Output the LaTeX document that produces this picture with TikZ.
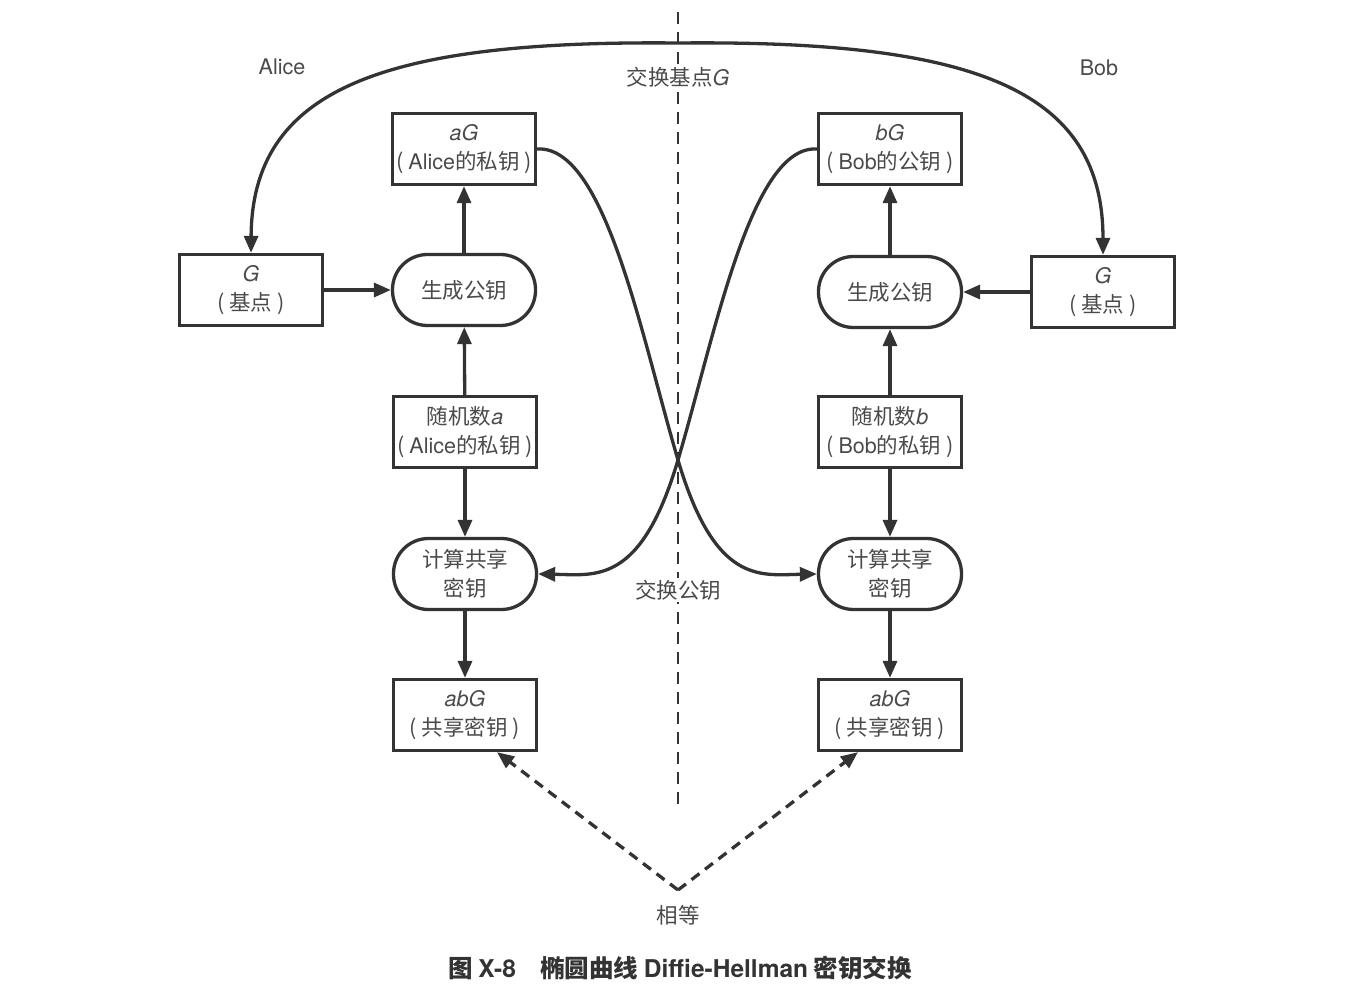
\documentclass[tikz,border=0pt]{standalone}
\usepackage{fontspec}
\setmainfont{Noto Sans CJK SC}
\newfontfamily\lat{TeX Gyre Heros}
\usetikzlibrary{arrows.meta}
\definecolor{lc}{HTML}{333333}
\definecolor{tc}{HTML}{4A4A4A}
\newcommand{\fs}{\fontsize{21.5}{29}\selectfont}
\newcommand{\iv}[1]{{\lat\itshape #1}}
\tikzset{
  box/.style={draw=lc, line width=3.3pt, minimum width=143pt, minimum height=71pt, inner sep=0pt, align=center, text=tc, font=\fs},
  pill/.style={box, rounded corners=35pt},
  arr/.style={draw=lc, line width=3.3pt, -{Triangle[length=17pt,width=14pt]}},
  dasharr/.style={arr, dash pattern=on 10pt off 7pt},
  lbl/.style={text=tc, font=\fs, inner sep=2pt},
}
\begin{document}
\begin{tikzpicture}[x=1pt,y=-1pt]
\useasboundingbox (0,0) rectangle (1345,992);
% divider
\coordinate (dtop) at (678,12);
\coordinate (dbot) at (678,810);
\draw[lc, line width=2pt, dash pattern=on 12pt off 8pt] (dtop) -- (dbot);
% nodes left
\node[box] (aG) at (464,149) {\iv{aG}\\( {\lat Alice}的私钥 )};
\node[box] (GL) at (251,290) {\iv{G}\\( 基点 )};
\node[pill] (genL) at (464,290) {生成公钥};
\node[box] (rndL) at (465,432) {随机数\iv{a}\\( {\lat Alice}的私钥 )};
\node[pill] (cmpL) at (465,574) {计算共享\\密钥};
\node[box] (abGL) at (465,715) {\iv{abG}\\( 共享密钥 )};
% nodes right
\node[box] (bG) at (890,149) {\iv{bG}\\( {\lat Bob}的公钥 )};
\node[box] (GR) at (1103,292) {\iv{G}\\( 基点 )};
\node[pill] (genR) at (890,292) {生成公钥};
\node[box] (rndR) at (890,432) {随机数\iv{b}\\( {\lat Bob}的私钥 )};
\node[pill] (cmpR) at (890,574) {计算共享\\密钥};
\node[box] (abGR) at (890,715) {\iv{abG}\\( 共享密钥 )};
% labels
\node[lbl] (alice) at (282,67) {\lat Alice};
\node[lbl] (bob) at (1099,68) {\lat Bob};
\coordinate (apex) at (678,43);
\draw[arr] (apex) .. controls (380,40) and (252,90) .. (GL.north);
\draw[arr] (apex) .. controls (976,40) and (1103,90) .. (GR.north);
\node[lbl, fill=white] (xg) at (678,77) {交换基点\iv{G}};
% vertical arrows
\draw[arr] (GL) -- (genL);
\draw[arr] (GR) -- (genR);
\draw[arr] (genL) -- (aG);
\draw[arr] (genR) -- (bG);
\draw[arr] (rndL) -- (genL);
\draw[arr] (rndR) -- (genR);
\draw[arr] (rndL) -- (cmpL);
\draw[arr] (rndR) -- (cmpR);
\draw[arr] (cmpL) -- (abGL);
\draw[arr] (cmpR) -- (abGR);
% crossing curves
\coordinate (cross) at (678,460);
\draw[arr] (aG.east) .. controls (605,145) and (641,335) .. (cross) .. controls (715,585) and (760,575) .. (cmpR.west);
\draw[arr] (bG.west) .. controls (751,145) and (715,335) .. (cross) .. controls (641,585) and (596,575) .. (cmpL.east);
\node[lbl, fill=white] (xp) at (678,590) {交换公钥};
% equality
\coordinate (eq) at (678,890);
\draw[dasharr] (eq) -- ([xshift=32pt]abGL.south);
\draw[dasharr] (eq) -- ([xshift=-32pt]abGR.south);
\node[lbl] (same) at (678,915) {相等};
% caption
\node[text=lc, font=\fontsize{24.5}{28}\selectfont\bfseries] (cap) at (680,968) {图 {\lat X-8}\quad 椭圆曲线 {\lat Diffie-Hellman} 密钥交换};
\end{tikzpicture}
\end{document}
